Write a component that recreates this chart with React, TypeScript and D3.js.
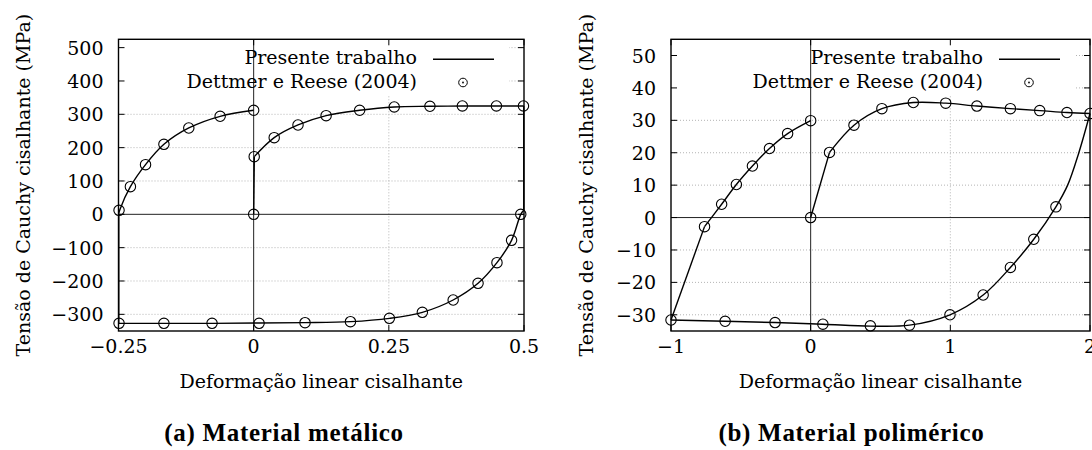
import React, { useEffect, useRef } from 'react';
import * as d3 from 'd3';

type Pt = [number, number];

// ---- (a) metal: Dettmer e Reese (2004) reference points
const metalRefPoints: Pt[] = [
  [-0.249, 12], [-0.228, 83], [-0.2, 149], [-0.166, 210], [-0.12, 259], [-0.062, 294], [0, 312],
  [0, 0], [0.001, 173], [0.038, 230], [0.082, 268], [0.134, 296], [0.196, 312], [0.26, 322],
  [0.326, 324], [0.386, 325], [0.449, 325], [0.499, 325],
  [0.494, 0], [0.477, -78], [0.45, -145], [0.415, -207], [0.369, -257], [0.312, -294],
  [0.251, -312], [0.179, -322], [0.095, -325], [0.01, -327], [-0.077, -327], [-0.166, -327], [-0.249, -327],
];

// ---- (a) metal: presente trabalho — elastic jumps (straight) and smooth branches
const metalJumps: Pt[][] = [
  [[0, 0], [0.0012, 173]],
  [[0.4995, 325], [0.4995, 12]],
  [[-0.2495, -327], [-0.2495, 2]],
];
const metalLoad: Pt[] = [
  [0.0012, 173], [0.038, 230], [0.082, 268], [0.134, 296], [0.196, 312], [0.26, 322],
  [0.326, 324], [0.386, 325], [0.449, 325], [0.4995, 325],
];
const metalUnload: Pt[] = [
  [0.4995, 12], [0.494, 0], [0.477, -78], [0.45, -145], [0.415, -207], [0.369, -257],
  [0.312, -294], [0.251, -312], [0.179, -322], [0.095, -325], [0.01, -326], [-0.077, -327],
  [-0.166, -327], [-0.2495, -327],
];
const metalReload: Pt[] = [
  [-0.2495, 2], [-0.2475, 14], [-0.228, 83], [-0.2, 149], [-0.166, 210], [-0.12, 259], [-0.062, 294], [0, 312],
];

const metalXTicks = [-0.25, 0, 0.25, 0.5];
const metalYTicks = [-300, -200, -100, 0, 100, 200, 300, 400, 500];

// ---- (b) polymer: Dettmer e Reese (2004) reference points
const polyRefPoints: Pt[] = [
  [-1, -31.6], [-0.76, -2.8], [-0.6375, 4.1], [-0.532, 10.2], [-0.417, 15.9], [-0.295, 21.3], [-0.165, 25.9], [0, 29.9],
  [0, 0], [0.135, 20.1], [0.31, 28.5], [0.51, 33.6], [0.735, 35.5], [0.967, 35.3], [1.19, 34.4],
  [1.43, 33.6], [1.64, 33.0], [1.835, 32.4], [2.0, 32.1],
  [1.756, 3.3], [1.5975, -6.7], [1.43, -15.4], [1.235, -23.9], [0.9975, -30.0], [0.7075, -33.2],
  [0.4275, -33.4], [0.0875, -32.9], [-0.255, -32.4], [-0.6125, -32.0],
];

// ---- (b) polymer: presente trabalho
const polyJumps: Pt[][] = [
  [[0, 0], [0.135, 20.1]],
  [[-1, -31.6], [-0.76, -2.8]],
];
const polyLoad: Pt[] = [
  [0.135, 20.1], [0.31, 28.5], [0.51, 33.6], [0.735, 35.5], [0.967, 35.3], [1.19, 34.4],
  [1.43, 33.6], [1.64, 33.0], [1.835, 32.4], [2.0, 32.1],
];
const polyUnload: Pt[] = [
  [2.0, 32.1], [1.92, 20], [1.84, 10], [1.756, 3.3], [1.5975, -6.7], [1.43, -15.4], [1.235, -23.9],
  [0.9975, -30.0], [0.7075, -33.2], [0.4275, -33.5], [0.0875, -32.9], [-0.255, -32.4], [-0.6125, -32.0], [-1, -31.6],
];
const polyReload: Pt[] = [
  [-0.76, -2.8], [-0.6375, 4.1], [-0.532, 10.2], [-0.417, 15.9], [-0.295, 21.3], [-0.165, 25.9], [0, 29.9],
];

const polyXTicks = [-1, 0, 1, 2];
const polyYTicks = [-30, -20, -10, 0, 10, 20, 30, 40, 50];

const legendLabels = ['Presente trabalho', 'Dettmer e Reese (2004)'];
const xLabel = 'Deformação linear cisalhante';
const yLabel = 'Tensão de Cauchy cisalhante (MPa)';

const W = 1092;
const H = 450;
const FONT = '"DejaVu Serif", serif';
const CAP_FONT = '"Liberation Serif", serif';

const fmt = (v: number) => (v < 0 ? '\u2212' + String(-v) : String(v));

const App = () => {
  const svgRef = useRef<SVGSVGElement>(null);

  useEffect(() => {
    const svg = d3.select(svgRef.current);
    svg.selectAll('*').remove();

    const drawPanel = (c: any) => {
      const x = d3.scaleLinear().domain(c.xDomain).range([c.left, c.right]);
      const y = d3.scaleLinear().domain(c.yDomain).range([c.bottom, c.top]);
      const g = svg.append('g');

      // dotted grid
      g.selectAll('.gx')
        .data(c.xTicks.filter((t: number) => t !== 0 && t > c.xDomain[0] && t < c.xDomain[1]))
        .enter().append('line')
        .attr('x1', (d: number) => x(d)).attr('x2', (d: number) => x(d))
        .attr('y1', c.top).attr('y2', c.bottom)
        .attr('stroke', '#b4b4b4').attr('stroke-width', 1).attr('stroke-dasharray', '1,2');
      g.selectAll('.gy')
        .data(c.yTicks.filter((t: number) => t !== 0))
        .enter().append('line')
        .attr('x1', c.left).attr('x2', c.right)
        .attr('y1', (d: number) => y(d)).attr('y2', (d: number) => y(d))
        .attr('stroke', '#b4b4b4').attr('stroke-width', 1).attr('stroke-dasharray', '1,2');

      // opaque key box
      g.append('rect')
        .attr('x', c.left + 1).attr('y', c.top + 1)
        .attr('width', c.right - 15 - c.left - 1).attr('height', 96 - c.top - 1)
        .attr('fill', '#fff');

      // zero axes
      g.append('line').attr('x1', x(0)).attr('x2', x(0)).attr('y1', c.top).attr('y2', c.bottom)
        .attr('stroke', '#222').attr('stroke-width', 1);
      g.append('line').attr('x1', c.left).attr('x2', c.right).attr('y1', y(0)).attr('y2', y(0))
        .attr('stroke', '#222').attr('stroke-width', 1);

      // frame + mirrored ticks
      g.append('rect').attr('x', c.left).attr('y', c.top)
        .attr('width', c.right - c.left).attr('height', c.bottom - c.top)
        .attr('fill', 'none').attr('stroke', '#000').attr('stroke-width', 1.4);
      const tk = 6;
      c.yTicks.forEach((t: number) => {
        g.append('line').attr('x1', c.left).attr('x2', c.left + tk).attr('y1', y(t)).attr('y2', y(t))
          .attr('stroke', '#000').attr('stroke-width', 1);
        g.append('line').attr('x1', c.right - tk).attr('x2', c.right).attr('y1', y(t)).attr('y2', y(t))
          .attr('stroke', '#000').attr('stroke-width', 1);
      });
      c.xTicks.forEach((t: number) => {
        g.append('line').attr('x1', x(t)).attr('x2', x(t)).attr('y1', c.bottom).attr('y2', c.bottom - tk)
          .attr('stroke', '#000').attr('stroke-width', 1);
        g.append('line').attr('x1', x(t)).attr('x2', x(t)).attr('y1', c.top).attr('y2', c.top + tk)
          .attr('stroke', '#000').attr('stroke-width', 1);
      });

      // tick labels
      g.selectAll('.ty').data(c.yTicks).enter().append('text')
        .attr('x', c.left - 15).attr('y', (d: number) => y(d) + 7)
        .attr('text-anchor', 'end').style('font-family', FONT).style('font-size', '19px')
        .text((d: number) => fmt(d));
      g.selectAll('.tx').data(c.xTicks).enter().append('text')
        .attr('x', (d: number) => x(d)).attr('y', 353)
        .attr('text-anchor', 'middle').style('font-family', FONT).style('font-size', '19px')
        .text((d: number) => fmt(d));

      // curves: straight elastic parts + smooth branches
      const straight = d3.line<Pt>().x((d) => x(d[0])).y((d) => y(d[1]));
      const smooth = d3.line<Pt>()
        .x((d) => x(d[0])).y((d) => y(d[1]))
        .curve(d3.curveCatmullRom.alpha(0.5));
      c.jumps.forEach((b: Pt[]) => {
        g.append('path').attr('d', straight(b)).attr('fill', 'none')
          .attr('stroke', '#000').attr('stroke-width', 1.4);
      });
      c.branches.forEach((b: Pt[]) => {
        g.append('path').attr('d', smooth(b)).attr('fill', 'none')
          .attr('stroke', '#000').attr('stroke-width', 1.4).attr('stroke-linejoin', 'round');
      });

      // reference points
      g.selectAll('.pt').data(c.points).enter().append('circle')
        .attr('cx', (d: Pt) => x(d[0])).attr('cy', (d: Pt) => y(d[1])).attr('r', 5.2)
        .attr('fill', 'none').attr('stroke', '#000').attr('stroke-width', 1.1);

      // legend
      const lx = c.right - 107;
      legendLabels.forEach((lab, i) => {
        g.append('text').attr('x', lx).attr('y', 63.5 + i * 24).attr('text-anchor', 'end')
          .style('font-family', FONT).style('font-size', '19px')
          .text(lab);
      });
      g.append('line').attr('x1', c.right - 91).attr('x2', c.right - 30).attr('y1', 59.3).attr('y2', 59.3)
        .attr('stroke', '#000').attr('stroke-width', 1.4);
      g.append('circle').attr('cx', c.right - 61).attr('cy', 82.5).attr('r', 4.3)
        .attr('fill', 'none').attr('stroke', '#000').attr('stroke-width', 1);
      g.append('circle').attr('cx', c.right - 61).attr('cy', 82.5).attr('r', 0.9).attr('fill', '#000');

      // axis titles
      g.append('text').attr('x', (c.left + c.right) / 2).attr('y', 388).attr('text-anchor', 'middle')
        .style('font-family', FONT).style('font-size', '19px')
        .text(xLabel);
      g.append('text')
        .attr('transform', `translate(${c.yLabelX},${(c.top + c.bottom) / 2}) rotate(-90)`)
        .attr('text-anchor', 'middle')
        .style('font-family', FONT).style('font-size', '19px')
        .text(yLabel);

      // caption
      g.append('text').attr('x', c.titleX).attr('y', 441).attr('text-anchor', 'middle')
        .style('font-family', CAP_FONT).style('font-size', '25px').style('font-weight', 'bold')
        .style('letter-spacing', '0.7px')
        .text(c.title);
    };

    drawPanel({
      left: 118.5, right: 524, top: 39.3, bottom: 331,
      xDomain: [-0.25, 0.5], yDomain: [-350, 525],
      xTicks: metalXTicks, yTicks: metalYTicks,
      jumps: metalJumps,
      branches: [metalLoad, metalUnload, metalReload], points: metalRefPoints,
      yLabelX: 30, title: '(a) Material metálico', titleX: 284,
    });

    drawPanel({
      left: 671, right: 1090, top: 39.3, bottom: 331,
      xDomain: [-1, 2], yDomain: [-35, 55],
      xTicks: polyXTicks, yTicks: polyYTicks,
      jumps: polyJumps,
      branches: [polyLoad, polyUnload, polyReload], points: polyRefPoints,
      yLabelX: 593, title: '(b) Material polimérico', titleX: 851.5,
    });
  }, []);

  return (
    <svg ref={svgRef} width={W} height={H}
      style={{ position: 'absolute', left: 0, top: 0, background: '#fff' }} />
  );
};

export default App;
